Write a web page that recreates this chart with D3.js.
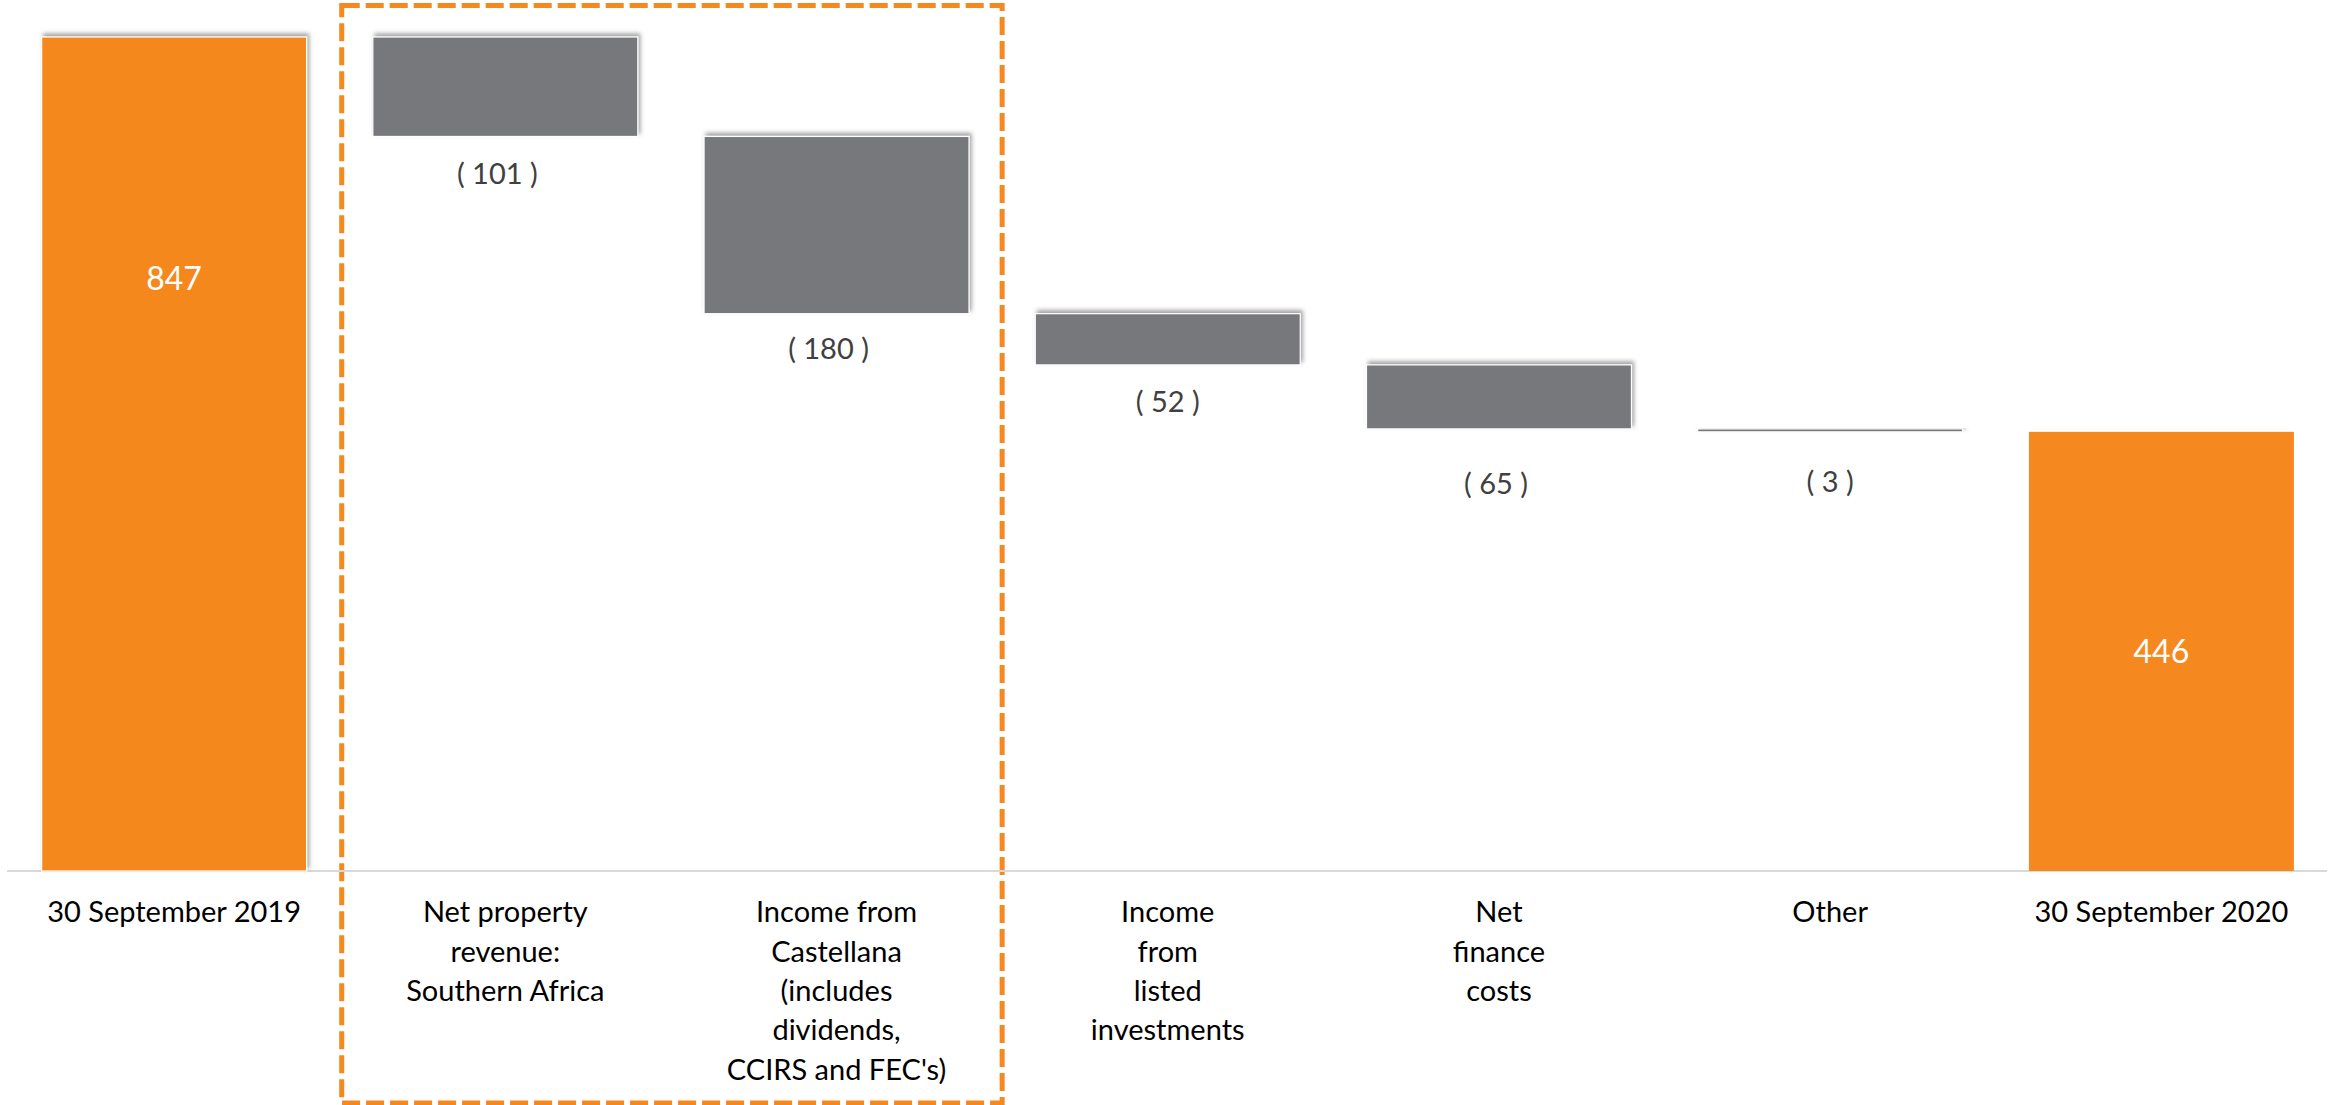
<!DOCTYPE html>
<html>
<head>
<meta charset="utf-8">
<script src="https://cdn.jsdelivr.net/npm/d3@7"></script>
<style>
  html, body { margin: 0; padding: 0; background: #fff; }
  svg { display: block; }
  text { font-family: Lato, "Open Sans", sans-serif; }
</style>
</head>
<body>
<div id="chart"></div>
<script>
// Waterfall: distributable earnings bridge, Sept 2019 -> Sept 2020

const categoryLines = [
  ["30 September 2019"],
  ["Net property", "revenue:", "Southern Africa"],
  ["Income from", "Castellana", "(includes", "dividends,", "CCIRS and FEC's)"],
  ["Income", "from", "listed", "investments"],
  ["Net", "finance", "costs"],
  ["Other"],
  ["30 September 2020"]
];
const values = [847, -101, -180, -52, -65, -3, 446];
const kinds = ["total", "delta", "delta", "delta", "delta", "delta", "total"];
const highlighted = [1, 2];   // categories inside the dashed box

const width = 2330, height = 1105;
const ORANGE = "#F5881F", GREY = "#77787B";

// build the floating segments
let running = 0;
const bars = values.map((v, i) => {
  let start, end;
  if (kinds[i] === "total") { start = 0; end = v; running = v; }
  else { start = running; end = running + v; running = end; }
  return { i, v, kind: kinds[i], lo: Math.min(start, end), hi: Math.max(start, end) };
});

const svg = d3.select("#chart").append("svg")
  .attr("width", width)
  .attr("height", height);

const defs = svg.append("defs");
const shadow = defs.append("filter").attr("id", "shadow")
  .attr("x", "-10%").attr("y", "-20%").attr("width", "125%").attr("height", "140%");
shadow.append("feDropShadow")
  .attr("dx", 2).attr("dy", -3).attr("stdDeviation", 2.2)
  .attr("flood-color", "#555").attr("flood-opacity", 0.55);

const x = d3.scaleBand()
  .domain(d3.range(values.length))
  .range([8.5, 2327])
  .paddingInner(0.2)
  .paddingOuter(0.1);

const y = d3.scaleLinear()
  .domain([0, 847])
  .range([871, 37]);

// dashed highlight box around the Southern Africa / Castellana columns
const gap = (x.step() - x.bandwidth()) / 2;
const boxL = x(highlighted[0]) - gap + 2;
const boxR = x(highlighted[highlighted.length - 1]) + x.bandwidth() + gap;
svg.append("rect")
  .attr("x", boxL).attr("y", 5.5)
  .attr("width", boxR - boxL).attr("height", 1097.5)
  .attr("fill", "none")
  .attr("stroke", ORANGE)
  .attr("stroke-width", 5)
  .attr("stroke-dasharray", "18 6");

// baseline
svg.append("line")
  .attr("x1", 7).attr("x2", 2327)
  .attr("y1", y(0)).attr("y2", y(0))
  .attr("stroke", "#D9D9D9").attr("stroke-width", 2);

// bars
svg.append("g").selectAll("rect")
  .data(bars)
  .enter()
  .append("rect")
  .attr("x", d => x(d.i))
  .attr("y", d => y(d.hi))
  .attr("width", x.bandwidth())
  .attr("height", d => Math.max(2, y(d.lo) - y(d.hi)))
  .attr("fill", d => d.kind === "total" ? ORANGE : GREY)
  .attr("stroke", d => d.i === values.length - 1 ? "none" : "#fff")
  .attr("stroke-width", 1.2)
  .attr("filter", d => d.i === values.length - 1 ? null : "url(#shadow)");

// value labels (nudges match the hand-placed labels of the original)
const labelGap = [0, 37, 35, 37, 55, 50, 0];
const labelDx = [0, -8, -8, 0, -3, 0, 0];
const totalLabelFrac = [0.71, 0, 0, 0, 0, 0, 0.5];

svg.append("g").selectAll("text")
  .data(bars)
  .enter()
  .append("text")
  .attr("x", d => x(d.i) + x.bandwidth() / 2 + labelDx[d.i])
  .attr("y", d => d.kind === "total"
    ? y(d.hi * totalLabelFrac[d.i])
    : y(d.lo) + labelGap[d.i])
  .attr("dy", "0.36em")
  .attr("text-anchor", "middle")
  .attr("fill", d => d.kind === "total" ? "#fff" : "#404040")
  .style("font-size", d => d.kind === "total" ? "32px" : "29px")
  .text(d => d.kind === "total" ? d3.format("d")(d.v) : "( " + Math.abs(d.v) + " )");

// category labels (multi-line)
const catG = svg.append("g").selectAll("text")
  .data(categoryLines)
  .enter()
  .append("text")
  .attr("text-anchor", "middle")
  .attr("fill", "#000")
  .style("font-size", "29px");

catG.selectAll("tspan")
  .data((lines, i) => lines.map((l, j) => ({ l, j, i })))
  .enter()
  .append("tspan")
  .attr("x", d => x(d.i) + x.bandwidth() / 2)
  .attr("y", d => 912 + d.j * 39.3)
  .attr("dy", "0.36em")
  .text(d => d.l);
</script>
</body>
</html>
